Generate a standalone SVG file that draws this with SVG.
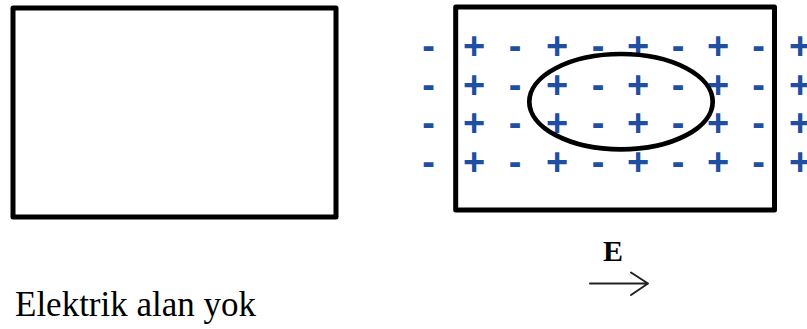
<svg xmlns="http://www.w3.org/2000/svg" width="807" height="329" viewBox="0 0 807 329">
  <style>
    .box { fill: none; stroke: #000; stroke-width: 5; stroke-linejoin: round; }
    .ch { font-family: "Liberation Sans", Arial, sans-serif; font-weight: bold; font-size: 38px; fill: #1F4FA0; text-anchor: middle; }
    .cap { font-family: "Liberation Serif", "Times New Roman", serif; font-size: 35px; fill: #000; }
    .lbl { font-family: "Liberation Serif", "Times New Roman", serif; font-weight: bold; font-size: 30px; fill: #000; }
    .arrow { fill: none; stroke: #222; stroke-width: 2; stroke-linecap: round; stroke-linejoin: round; }
  </style>
  <rect width="807" height="329" fill="#fff"/>

  <g id="box-no-field">
    <rect class="box" x="13" y="8" width="323" height="209"/>
  </g>

  <g id="box-with-field">
    <rect class="box" x="455.7" y="7" width="318.8" height="203"/>
  </g>

  <g id="charges">
    <g id="row1" transform="translate(0,59)">
      <text class="ch" x="428.5" y="0">-</text><text class="ch" x="474" y="0">+</text>
      <text class="ch" x="515" y="0">-</text><text class="ch" x="557" y="0">+</text>
      <text class="ch" x="598" y="0">-</text><text class="ch" x="638" y="0">+</text>
      <text class="ch" x="678" y="0">-</text><text class="ch" x="718" y="0">+</text>
      <text class="ch" x="758.5" y="0">-</text><text class="ch" x="800" y="0">+</text>
    </g>
    <g id="row2" transform="translate(0,97.5)">
      <text class="ch" x="428.5" y="0">-</text><text class="ch" x="474" y="0">+</text>
      <text class="ch" x="515" y="0">-</text><text class="ch" x="557" y="0">+</text>
      <text class="ch" x="598" y="0">-</text><text class="ch" x="638" y="0">+</text>
      <text class="ch" x="678" y="0">-</text><text class="ch" x="718" y="0">+</text>
      <text class="ch" x="758.5" y="0">-</text><text class="ch" x="800" y="0">+</text>
    </g>
    <g id="row3" transform="translate(0,136)">
      <text class="ch" x="428.5" y="0">-</text><text class="ch" x="474" y="0">+</text>
      <text class="ch" x="515" y="0">-</text><text class="ch" x="557" y="0">+</text>
      <text class="ch" x="598" y="0">-</text><text class="ch" x="638" y="0">+</text>
      <text class="ch" x="678" y="0">-</text><text class="ch" x="718" y="0">+</text>
      <text class="ch" x="758.5" y="0">-</text><text class="ch" x="800" y="0">+</text>
    </g>
    <g id="row4" transform="translate(0,174.5)">
      <text class="ch" x="428.5" y="0">-</text><text class="ch" x="474" y="0">+</text>
      <text class="ch" x="515" y="0">-</text><text class="ch" x="557" y="0">+</text>
      <text class="ch" x="598" y="0">-</text><text class="ch" x="638" y="0">+</text>
      <text class="ch" x="678" y="0">-</text><text class="ch" x="718" y="0">+</text>
      <text class="ch" x="758.5" y="0">-</text><text class="ch" x="800" y="0">+</text>
    </g>
  </g>

  <g id="loop">
    <ellipse cx="621" cy="101.7" rx="91.7" ry="47.7" fill="none" stroke="#000" stroke-width="4.7"/>
  </g>

  <g id="field-label">
    <text class="lbl" x="603" y="261">E</text>
  </g>
  <g id="connectors">
    <path class="arrow" d="M590 283.5 H648 M631 272.5 L648 283.5 L631 295"/>
  </g>

  <g id="caption">
    <text class="cap" x="15" y="316">Elektrik alan yok</text>
  </g>
</svg>
